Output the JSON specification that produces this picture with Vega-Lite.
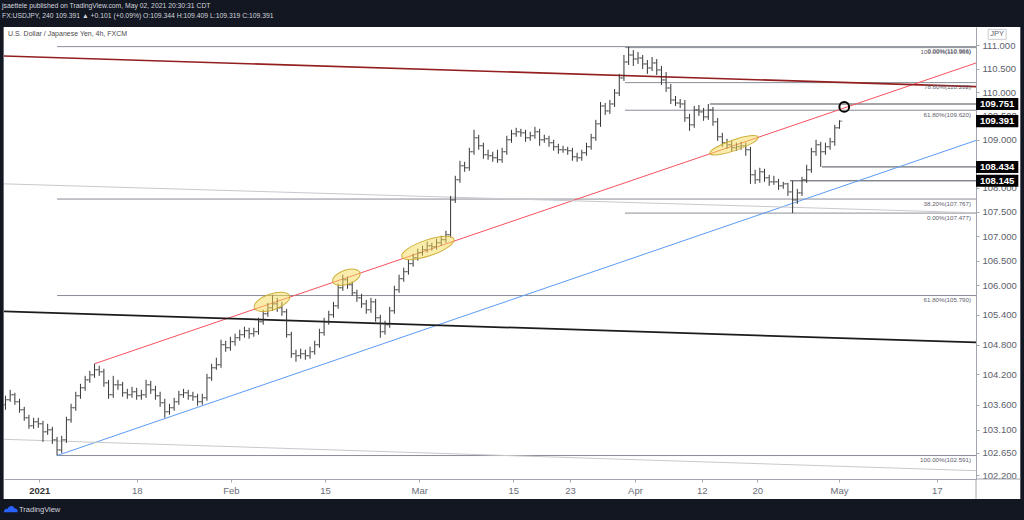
{
"$schema": "https://vega.github.io/schema/vega-lite/v6.json",
"width": 972,
"height": 452,
"autosize": "none",
"padding": {"left": 4, "top": 27, "right": 48, "bottom": 41},
"background": "#ffffff",
"config": {"view": {"stroke": null}, "font": "Liberation Sans"},
"resolve": {"scale": {"color": "independent", "shape": "independent"}},
"title": {"text": ["jsaettele published on TradingView.com, May 02, 2021 20:30:31 CDT", "FX:USDJPY, 240  109.391 ▲ +0.101 (+0.09%)  O:109.344  H:109.409  L:109.319  C:109.391"], "anchor": "start", "frame": "group", "offset": -21.5, "fontSize": 6.8, "lineHeight": 10, "color": "#d1d4dc", "font": "Liberation Sans", "fontWeight": "normal", "dx": -2},
"datasets": {
"bars": [
{"d":-4,"o":103.595,"h":103.774,"l":103.496,"c":103.695},
{"d":-3.5,"o":103.695,"h":103.893,"l":103.655,"c":103.794},
{"d":-3,"o":103.794,"h":103.834,"l":103.595,"c":103.655},
{"d":-2.5,"o":103.655,"h":103.714,"l":103.436,"c":103.496},
{"d":-2,"o":103.496,"h":103.555,"l":103.277,"c":103.337},
{"d":-1.5,"o":103.337,"h":103.397,"l":103.118,"c":103.178},
{"d":-1,"o":103.178,"h":103.337,"l":103.118,"c":103.257},
{"d":-0.5,"o":103.257,"h":103.337,"l":103.138,"c":103.218},
{"d":0,"o":103.218,"h":103.277,"l":102.860,"c":103.059},
{"d":0.5,"o":103.059,"h":103.218,"l":102.999,"c":103.099},
{"d":1,"o":103.099,"h":103.158,"l":102.820,"c":102.900},
{"d":1.5,"o":102.900,"h":102.959,"l":102.591,"c":102.701},
{"d":2,"o":102.701,"h":102.979,"l":102.641,"c":102.900},
{"d":2.5,"o":102.900,"h":103.357,"l":102.840,"c":103.297},
{"d":3,"o":103.297,"h":103.615,"l":103.238,"c":103.536},
{"d":3.5,"o":103.536,"h":103.854,"l":103.476,"c":103.774},
{"d":4,"o":103.774,"h":104.013,"l":103.714,"c":103.933},
{"d":4.5,"o":103.933,"h":104.172,"l":103.873,"c":104.092},
{"d":5,"o":104.092,"h":104.273,"l":104.032,"c":104.192},
{"d":5.5,"o":104.192,"h":104.414,"l":104.132,"c":104.293},
{"d":6,"o":104.293,"h":104.373,"l":104.172,"c":104.253},
{"d":6.5,"o":104.253,"h":104.313,"l":103.953,"c":104.032},
{"d":7,"o":104.032,"h":104.092,"l":103.714,"c":103.794},
{"d":7.5,"o":103.794,"h":104.172,"l":103.734,"c":103.993},
{"d":8,"o":103.993,"h":104.092,"l":103.893,"c":103.993},
{"d":8.5,"o":103.993,"h":104.052,"l":103.754,"c":103.834},
{"d":9,"o":103.834,"h":103.913,"l":103.714,"c":103.794},
{"d":9.5,"o":103.794,"h":103.953,"l":103.734,"c":103.854},
{"d":10,"o":103.854,"h":103.933,"l":103.695,"c":103.774},
{"d":10.5,"o":103.774,"h":103.893,"l":103.695,"c":103.794},
{"d":11,"o":103.794,"h":104.092,"l":103.734,"c":103.993},
{"d":11.5,"o":103.993,"h":104.072,"l":103.814,"c":103.893},
{"d":12,"o":103.893,"h":103.973,"l":103.695,"c":103.774},
{"d":12.5,"o":103.774,"h":103.854,"l":103.555,"c":103.635},
{"d":13,"o":103.635,"h":103.714,"l":103.337,"c":103.456},
{"d":13.5,"o":103.456,"h":103.615,"l":103.397,"c":103.536},
{"d":14,"o":103.536,"h":103.734,"l":103.476,"c":103.655},
{"d":14.5,"o":103.655,"h":103.873,"l":103.595,"c":103.794},
{"d":15,"o":103.794,"h":103.913,"l":103.734,"c":103.834},
{"d":15.5,"o":103.834,"h":103.893,"l":103.695,"c":103.774},
{"d":16,"o":103.774,"h":103.854,"l":103.675,"c":103.754},
{"d":16.5,"o":103.754,"h":103.814,"l":103.575,"c":103.655},
{"d":17,"o":103.655,"h":103.814,"l":103.595,"c":103.734},
{"d":17.5,"o":103.734,"h":104.212,"l":103.675,"c":104.132},
{"d":18,"o":104.132,"h":104.414,"l":104.072,"c":104.333},
{"d":18.5,"o":104.333,"h":104.534,"l":104.293,"c":104.394},
{"d":19,"o":104.394,"h":104.897,"l":104.333,"c":104.796},
{"d":19.5,"o":104.796,"h":104.877,"l":104.655,"c":104.736},
{"d":20,"o":104.736,"h":104.957,"l":104.675,"c":104.857},
{"d":20.5,"o":104.857,"h":105.018,"l":104.776,"c":104.937},
{"d":21,"o":104.937,"h":105.098,"l":104.877,"c":104.998},
{"d":21.5,"o":104.998,"h":105.159,"l":104.937,"c":105.078},
{"d":22,"o":105.078,"h":105.138,"l":104.917,"c":105.018},
{"d":22.5,"o":105.018,"h":105.138,"l":104.957,"c":105.058},
{"d":23,"o":105.058,"h":105.340,"l":104.998,"c":105.259},
{"d":23.5,"o":105.259,"h":105.501,"l":105.199,"c":105.420},
{"d":24,"o":105.420,"h":105.642,"l":105.360,"c":105.541},
{"d":24.5,"o":105.541,"h":105.804,"l":105.481,"c":105.621},
{"d":25,"o":105.621,"h":105.743,"l":105.460,"c":105.541},
{"d":25.5,"o":105.541,"h":105.662,"l":105.380,"c":105.460},
{"d":26,"o":105.460,"h":105.521,"l":104.937,"c":104.998},
{"d":26.5,"o":104.998,"h":105.058,"l":104.534,"c":104.615},
{"d":27,"o":104.615,"h":104.696,"l":104.454,"c":104.575},
{"d":27.5,"o":104.575,"h":104.716,"l":104.514,"c":104.615},
{"d":28,"o":104.615,"h":104.696,"l":104.494,"c":104.575},
{"d":28.5,"o":104.575,"h":104.756,"l":104.514,"c":104.655},
{"d":29,"o":104.655,"h":104.877,"l":104.595,"c":104.796},
{"d":29.5,"o":104.796,"h":105.118,"l":104.736,"c":105.038},
{"d":30,"o":105.038,"h":105.340,"l":104.977,"c":105.259},
{"d":30.5,"o":105.259,"h":105.481,"l":105.199,"c":105.400},
{"d":31,"o":105.400,"h":105.662,"l":105.340,"c":105.581},
{"d":31.5,"o":105.581,"h":106.029,"l":105.521,"c":105.948},
{"d":32,"o":105.948,"h":106.214,"l":105.886,"c":106.111},
{"d":32.5,"o":106.111,"h":106.173,"l":105.927,"c":106.009},
{"d":33,"o":106.009,"h":106.070,"l":105.784,"c":105.845},
{"d":33.5,"o":105.845,"h":105.907,"l":105.662,"c":105.743},
{"d":34,"o":105.743,"h":105.825,"l":105.541,"c":105.621},
{"d":34.5,"o":105.621,"h":105.702,"l":105.420,"c":105.501},
{"d":35,"o":105.501,"h":105.743,"l":105.440,"c":105.662},
{"d":35.5,"o":105.662,"h":105.722,"l":105.259,"c":105.340},
{"d":36,"o":105.340,"h":105.400,"l":104.937,"c":105.058},
{"d":36.5,"o":105.058,"h":105.279,"l":104.998,"c":105.199},
{"d":37,"o":105.199,"h":105.561,"l":105.138,"c":105.481},
{"d":37.5,"o":105.481,"h":105.988,"l":105.420,"c":105.907},
{"d":38,"o":105.907,"h":106.214,"l":105.845,"c":106.132},
{"d":38.5,"o":106.132,"h":106.357,"l":106.070,"c":106.275},
{"d":39,"o":106.275,"h":106.520,"l":106.214,"c":106.439},
{"d":39.5,"o":106.439,"h":106.643,"l":106.377,"c":106.561},
{"d":40,"o":106.561,"h":106.745,"l":106.500,"c":106.664},
{"d":40.5,"o":106.664,"h":106.807,"l":106.602,"c":106.725},
{"d":41,"o":106.725,"h":106.889,"l":106.664,"c":106.807},
{"d":41.5,"o":106.807,"h":106.868,"l":106.705,"c":106.786},
{"d":42,"o":106.786,"h":106.950,"l":106.725,"c":106.868},
{"d":42.5,"o":106.868,"h":107.011,"l":106.807,"c":106.930},
{"d":43,"o":106.930,"h":107.114,"l":106.868,"c":107.032},
{"d":43.5,"o":107.032,"h":107.832,"l":106.971,"c":107.748},
{"d":44,"o":107.748,"h":108.249,"l":107.687,"c":108.166},
{"d":44.5,"o":108.166,"h":108.562,"l":108.103,"c":108.458},
{"d":45,"o":108.458,"h":108.541,"l":108.332,"c":108.416},
{"d":45.5,"o":108.416,"h":108.833,"l":108.353,"c":108.750},
{"d":46,"o":108.750,"h":109.209,"l":108.687,"c":109.042},
{"d":46.5,"o":109.042,"h":109.105,"l":108.792,"c":108.875},
{"d":47,"o":108.875,"h":108.938,"l":108.604,"c":108.687},
{"d":47.5,"o":108.687,"h":108.792,"l":108.583,"c":108.666},
{"d":48,"o":108.666,"h":108.750,"l":108.541,"c":108.625},
{"d":48.5,"o":108.625,"h":108.792,"l":108.520,"c":108.583},
{"d":49,"o":108.583,"h":108.833,"l":108.520,"c":108.750},
{"d":49.5,"o":108.750,"h":109.084,"l":108.687,"c":109.000},
{"d":50,"o":109.000,"h":109.209,"l":108.938,"c":109.125},
{"d":50.5,"o":109.125,"h":109.251,"l":109.063,"c":109.167},
{"d":51,"o":109.167,"h":109.230,"l":109.063,"c":109.146},
{"d":51.5,"o":109.146,"h":109.209,"l":108.958,"c":109.042},
{"d":52,"o":109.042,"h":109.167,"l":108.979,"c":109.084},
{"d":52.5,"o":109.084,"h":109.271,"l":109.021,"c":109.167},
{"d":53,"o":109.167,"h":109.230,"l":108.875,"c":109.000},
{"d":53.5,"o":109.000,"h":109.105,"l":108.938,"c":109.021},
{"d":54,"o":109.021,"h":109.084,"l":108.854,"c":108.938},
{"d":54.5,"o":108.938,"h":109.000,"l":108.771,"c":108.854},
{"d":55,"o":108.854,"h":108.917,"l":108.708,"c":108.792},
{"d":55.5,"o":108.792,"h":108.875,"l":108.729,"c":108.792},
{"d":56,"o":108.792,"h":108.854,"l":108.687,"c":108.771},
{"d":56.5,"o":108.771,"h":108.833,"l":108.562,"c":108.645},
{"d":57,"o":108.645,"h":108.729,"l":108.541,"c":108.625},
{"d":57.5,"o":108.625,"h":108.792,"l":108.562,"c":108.729},
{"d":58,"o":108.729,"h":108.938,"l":108.666,"c":108.854},
{"d":58.5,"o":108.854,"h":109.125,"l":108.792,"c":109.042},
{"d":59,"o":109.042,"h":109.418,"l":108.979,"c":109.334},
{"d":59.5,"o":109.334,"h":109.793,"l":109.271,"c":109.710},
{"d":60,"o":109.710,"h":109.772,"l":109.522,"c":109.605},
{"d":60.5,"o":109.605,"h":109.835,"l":109.543,"c":109.752},
{"d":61,"o":109.752,"h":110.068,"l":109.689,"c":109.984},
{"d":61.5,"o":109.984,"h":110.386,"l":109.920,"c":110.301},
{"d":62,"o":110.301,"h":110.788,"l":110.238,"c":110.640},
{"d":62.5,"o":110.640,"h":110.966,"l":110.576,"c":110.788},
{"d":63,"o":110.788,"h":110.894,"l":110.555,"c":110.703},
{"d":63.5,"o":110.703,"h":110.852,"l":110.598,"c":110.725},
{"d":64,"o":110.725,"h":110.788,"l":110.492,"c":110.598},
{"d":64.5,"o":110.598,"h":110.682,"l":110.386,"c":110.513},
{"d":65,"o":110.513,"h":110.746,"l":110.449,"c":110.619},
{"d":65.5,"o":110.619,"h":110.703,"l":110.365,"c":110.471},
{"d":66,"o":110.471,"h":110.555,"l":110.153,"c":110.259},
{"d":66.5,"o":110.259,"h":110.428,"l":110.005,"c":110.089},
{"d":67,"o":110.089,"h":110.174,"l":109.752,"c":109.835},
{"d":67.5,"o":109.835,"h":109.920,"l":109.710,"c":109.772},
{"d":68,"o":109.772,"h":109.856,"l":109.668,"c":109.752},
{"d":68.5,"o":109.752,"h":109.835,"l":109.376,"c":109.459},
{"d":69,"o":109.459,"h":109.543,"l":109.188,"c":109.313},
{"d":69.5,"o":109.313,"h":109.710,"l":109.251,"c":109.626},
{"d":70,"o":109.626,"h":109.731,"l":109.501,"c":109.585},
{"d":70.5,"o":109.585,"h":109.668,"l":109.397,"c":109.480},
{"d":71,"o":109.480,"h":109.751,"l":109.418,"c":109.626},
{"d":71.5,"o":109.626,"h":109.689,"l":109.292,"c":109.376},
{"d":72,"o":109.376,"h":109.459,"l":108.979,"c":109.063},
{"d":72.5,"o":109.063,"h":109.146,"l":108.854,"c":108.938},
{"d":73,"o":108.938,"h":109.021,"l":108.812,"c":108.896},
{"d":73.5,"o":108.896,"h":108.979,"l":108.750,"c":108.833},
{"d":74,"o":108.833,"h":108.938,"l":108.771,"c":108.854},
{"d":74.5,"o":108.854,"h":108.958,"l":108.792,"c":108.875},
{"d":75,"o":108.875,"h":108.938,"l":108.666,"c":108.792},
{"d":75.5,"o":108.792,"h":108.854,"l":108.082,"c":108.270},
{"d":76,"o":108.270,"h":108.374,"l":108.082,"c":108.166},
{"d":76.5,"o":108.166,"h":108.416,"l":108.103,"c":108.332},
{"d":77,"o":108.332,"h":108.395,"l":108.124,"c":108.207},
{"d":77.5,"o":108.207,"h":108.270,"l":108.040,"c":108.124},
{"d":78,"o":108.124,"h":108.249,"l":108.061,"c":108.124},
{"d":78.5,"o":108.124,"h":108.186,"l":107.957,"c":108.040},
{"d":79,"o":108.040,"h":108.124,"l":107.978,"c":108.082},
{"d":79.5,"o":108.082,"h":108.103,"l":107.832,"c":107.915},
{"d":80,"o":107.915,"h":108.145,"l":107.477,"c":107.748},
{"d":80.5,"o":107.748,"h":107.978,"l":107.666,"c":107.894},
{"d":81,"o":107.894,"h":108.228,"l":107.832,"c":108.166},
{"d":81.5,"o":108.166,"h":108.479,"l":108.103,"c":108.374},
{"d":82,"o":108.374,"h":108.833,"l":108.312,"c":108.750},
{"d":82.5,"o":108.750,"h":109.000,"l":108.666,"c":108.896},
{"d":83,"o":108.896,"h":108.958,"l":108.434,"c":108.750},
{"d":83.5,"o":108.750,"h":108.938,"l":108.687,"c":108.854},
{"d":84,"o":108.854,"h":109.042,"l":108.792,"c":108.958},
{"d":84.5,"o":108.958,"h":109.313,"l":108.875,"c":109.251},
{"d":85,"o":109.251,"h":109.409,"l":109.230,"c":109.391}
],
"thin": [
{"id":"red","d":5.5,"p":104.414},{"id":"red","d":100.5,"p":110.681},
{"id":"blue","d":1.5,"p":102.591},{"id":"blue","d":100.5,"p":109.049},
{"id":"g1","d":-5,"p":108.087},{"id":"g1","d":100.5,"p":107.478},
{"id":"g2","d":-5,"p":102.916},{"id":"g2","d":100.5,"p":102.288}
],
"thick": [
{"id":"maroon","d":-5,"p":110.772},{"id":"maroon","d":100.5,"p":110.111},
{"id":"black","d":-5,"p":105.475},{"id":"black","d":100.5,"p":104.836}
],
"fibs": [
{"d0":1.5,"p":110.966,"lbl":"0.00%(110.966)"},
{"d0":1.5,"p":107.767,"lbl":"38.20%(107.767)"},
{"d0":1.5,"p":105.790,"lbl":"61.80%(105.790)"},
{"d0":1.5,"p":102.591,"lbl":"100.00%(102.591)"},
{"d0":62.11,"p":110.945,"lbl":"100.00%(110.966)"},
{"d0":62.11,"p":110.202,"lbl":"78.60%(110.202)"},
{"d0":62.11,"p":109.620,"lbl":"61.80%(109.620)"},
{"d0":62.11,"p":107.477,"lbl":"0.00%(107.477)"}
],
"rays": [
{"d0":71.18,"p":109.751},{"d0":79.72,"p":108.145},{"d0":83.14,"p":108.434}
],
"ell": [
{"id":"e1","d":24.44,"p":105.662},{"id":"e2","d":32.38,"p":106.162},{"id":"e3","d":41.07,"p":106.760},{"id":"e4","d":73.74,"p":108.885}
],
"tags": [
{"p":109.751,"t":"109.751"},{"p":109.391,"t":"109.391"},{"p":108.434,"t":"108.434"},{"p":108.145,"t":"108.145"}
]
},
"layer": [
{"data":{"values":[{}]},"mark":{"type":"rect","color":"#131722"},"encoding":{"x":{"datum":-4.7},"x2":{"datum":104.8},"y":{"datum":112.0},"y2":{"datum":111.385}}},
{"data":{"values":[{}]},"mark":{"type":"rect","color":"#131722"},"encoding":{"x":{"datum":-4.7},"x2":{"datum":104.8},"y":{"datum":101.74},"y2":{"datum":101.3}}},
{"data":{"values":[{}]},"mark":{"type":"rect","color":"#131722"},"encoding":{"x":{"datum":-4.7},"x2":{"datum":-4.2},"y":{"datum":112.0},"y2":{"datum":101.3}}},
{"data":{"values":[{}]},"mark":{"type":"rect","color":"#131722"},"encoding":{"x":{"datum":104.3},"x2":{"datum":104.8},"y":{"datum":112.0},"y2":{"datum":101.3}}},
{"data":{"name":"fibs"},"mark":{"type":"rule","color":"#8a8d96","strokeWidth":1},"encoding":{"x":{"field":"d0","type":"quantitative"},"x2":{"datum":99.57},"y":{"field":"p","type":"quantitative"}}},
{"data":{"name":"rays"},"mark":{"type":"rule","color":"#4a4d57","strokeWidth":1},"encoding":{"x":{"field":"d0","type":"quantitative"},"x2":{"datum":99.57},"y":{"field":"p","type":"quantitative"}}},
{"data":{"name":"thin"},"mark":{"type":"line","clip":true,"strokeWidth":1},"encoding":{"x":{"field":"d","type":"quantitative"},"y":{"field":"p","type":"quantitative"},"color":{"field":"id","type":"nominal","scale":{"domain":["red","blue","g1","g2"],"range":["#f7525f","#5b9cf6","#c8c9cc","#c8c9cc"]},"legend":null}}},
{"data":{"name":"thick"},"transform":[{"filter":"datum.id == 'maroon'"}],"mark":{"type":"line","clip":true,"strokeWidth":1.6,"color":"#931f1f"},"encoding":{"x":{"field":"d","type":"quantitative"},"y":{"field":"p","type":"quantitative"}}},
{"data":{"name":"thick"},"transform":[{"filter":"datum.id == 'black'"}],"mark":{"type":"line","clip":true,"strokeWidth":1.7,"color":"#1c1c1c"},"encoding":{"x":{"field":"d","type":"quantitative"},"y":{"field":"p","type":"quantitative"}}},
{"data":{"name":"bars"},"mark":{"type":"rule","color":"#363636","strokeWidth":1},"encoding":{
 "x":{"field":"d","type":"quantitative","scale":{"domain":[-4.16,99.57],"nice":false,"zero":false},"axis":{"title":null,"values":[-0.39,10,20.06,30.1,40.16,50.19,56.24,63.18,70.3,76.23,84.95,95.38],"labelExpr":"datum.value < 5 ? '2021' : datum.value < 15 ? '18' : datum.value < 25 ? 'Feb' : datum.value < 35 ? '15' : datum.value < 45 ? 'Mar' : datum.value < 53 ? '15' : datum.value < 60 ? '23' : datum.value < 67 ? 'Apr' : datum.value < 73 ? '12' : datum.value < 80 ? '20' : datum.value < 90 ? 'May' : '17'","grid":false,"domainColor":"#a3a6af","tickColor":"#a3a6af","tickSize":3,"labelFontSize":9.5,"labelPadding":3,"labelOverlap":false,"labelFlush":false,"labelColor":{"condition":{"test":"datum.value < 5","value":"#333333"},"value":"#6a6d78"},"labelFontWeight":{"condition":{"test":"datum.value < 5","value":"bold"},"value":"normal"}}},
 "y":{"field":"l","type":"quantitative","scale":{"type":"log","domain":[102.13,111.385],"nice":false},"axis":{"orient":"right","title":null,"values":[102.2,102.65,103.1,103.6,104.2,104.8,105.4,106,106.5,107,107.5,108,108.5,109,109.5,110,110.5,111],"format":".3f","grid":false,"domainColor":"#a3a6af","tickColor":"#a3a6af","tickSize":3,"labelFontSize":9.5,"labelPadding":3,"labelColor":"#5d606b","labelOverlap":false}},
 "y2":{"field":"h"}}},
{"data":{"name":"bars"},"mark":{"type":"tick","orient":"horizontal","size":2.5,"thickness":1,"xOffset":-1.5,"color":"#363636"},"encoding":{"x":{"field":"d","type":"quantitative"},"y":{"field":"o","type":"quantitative"}}},
{"data":{"name":"bars"},"mark":{"type":"tick","orient":"horizontal","size":2.5,"thickness":1,"xOffset":1.5,"color":"#363636"},"encoding":{"x":{"field":"d","type":"quantitative"},"y":{"field":"c","type":"quantitative"}}},
{"data":{"name":"ell"},"mark":{"type":"point","filled":true,"size":3600,"angle":341.2,"fill":"#f5dc5a","fillOpacity":0.5,"stroke":"#c9a82c","strokeWidth":1,"strokeOpacity":0.9},"encoding":{"x":{"field":"d","type":"quantitative"},"y":{"field":"p","type":"quantitative"},"shape":{"field":"id","type":"nominal","scale":{"domain":["e1","e2","e3","e4"],"range":["M-0.62,0C-0.62,-0.148,-0.342,-0.268,0,-0.268C0.342,-0.268,0.62,-0.148,0.62,0C0.62,0.148,0.342,0.268,0,0.268C-0.342,0.268,-0.62,0.148,-0.62,0Z","M-0.477,0C-0.477,-0.133,-0.263,-0.24,0,-0.24C0.263,-0.24,0.477,-0.133,0.477,0C0.477,0.133,0.263,0.24,0,0.24C-0.263,0.24,-0.477,0.133,-0.477,0Z","M-0.917,0C-0.917,-0.148,-0.506,-0.268,0,-0.268C0.506,-0.268,0.917,-0.148,0.917,0C0.917,0.148,0.506,0.268,0,0.268C-0.506,0.268,-0.917,0.148,-0.917,0Z","M-0.85,0C-0.85,-0.099,-0.469,-0.18,0,-0.18C0.469,-0.18,0.85,-0.099,0.85,0C0.85,0.099,0.469,0.18,0,0.18C-0.469,0.18,-0.85,0.099,-0.85,0Z"]},"legend":null}}},
{"data":{"values":[{"d":85.51,"p":109.689}]},"mark":{"type":"point","shape":"circle","size":95,"filled":false,"stroke":"#000000","strokeWidth":2,"opacity":1},"encoding":{"x":{"field":"d","type":"quantitative"},"y":{"field":"p","type":"quantitative"}}},
{"data":{"name":"fibs"},"mark":{"type":"text","align":"right","baseline":"top","dy":1.5,"fontSize":6.2,"color":"#5d606b"},"encoding":{"x":{"datum":99.04},"y":{"field":"p","type":"quantitative"},"text":{"field":"lbl"}}},
{"data":{"name":"tags"},"mark":{"type":"point","shape":"M-1,-0.284L1,-0.284L1,0.284L-1,0.284Z","size":1789,"filled":true,"color":"#000000","opacity":1},"encoding":{"x":{"datum":101.83},"y":{"field":"p","type":"quantitative"}}},
{"data":{"name":"tags"},"mark":{"type":"text","align":"center","baseline":"middle","fontSize":9.5,"fontWeight":"bold","color":"#ffffff"},"encoding":{"x":{"datum":101.83},"y":{"field":"p","type":"quantitative"},"text":{"field":"t"}}},
{"data":{"values":[{"t":"JPY"}]},"mark":{"type":"point","shape":"M-1,-0.55L1,-0.55L1,0.55L-1,0.55Z","size":324,"filled":false,"fill":"#ffffff","stroke":"#c9cbd1","strokeWidth":1,"opacity":1},"encoding":{"x":{"datum":101.83},"y":{"datum":111.228}}},
{"data":{"values":[{"t":"JPY"}]},"mark":{"type":"text","align":"center","baseline":"middle","fontSize":7.5,"color":"#5d606b"},"encoding":{"x":{"datum":101.83},"y":{"datum":111.228},"text":{"field":"t"}}},
{"data":{"values":[{"t":"U.S. Dollar / Japanese Yen, 4h, FXCM"}]},"mark":{"type":"text","align":"left","baseline":"middle","fontSize":7,"color":"#4a4a4a"},"encoding":{"x":{"datum":-3.73},"y":{"datum":111.228},"text":{"field":"t"}}},
{"data":{"values":[{}]},"mark":{"type":"point","shape":"M-1,0.45C-1.05,0.05,-0.75,-0.15,-0.45,-0.05C-0.35,-0.55,0.35,-0.6,0.5,-0.1C0.85,-0.15,1.05,0.2,0.9,0.45Z","size":196,"filled":true,"color":"#2962ff","opacity":1},"encoding":{"x":{"datum":-3.41},"y":{"datum":101.54}}},
{"data":{"values":[{"t":"TradingView"}]},"mark":{"type":"text","align":"left","baseline":"middle","fontSize":7.5,"color":"#d1d4dc"},"encoding":{"x":{"datum":-2.56},"y":{"datum":101.53},"text":{"field":"t"}}},
{"data":{"values":[{}]},"mark":{"type":"rule","color":"#a3a6af","strokeWidth":1},"encoding":{"x":{"datum":99.57},"x2":{"datum":104.3},"y":{"datum":102.13}}},
{"data":{"values":[{}]},"mark":{"type":"rule","color":"#a3a6af","strokeWidth":1},"encoding":{"x":{"datum":99.57},"y":{"datum":102.13},"y2":{"datum":101.74}}}
]
}
